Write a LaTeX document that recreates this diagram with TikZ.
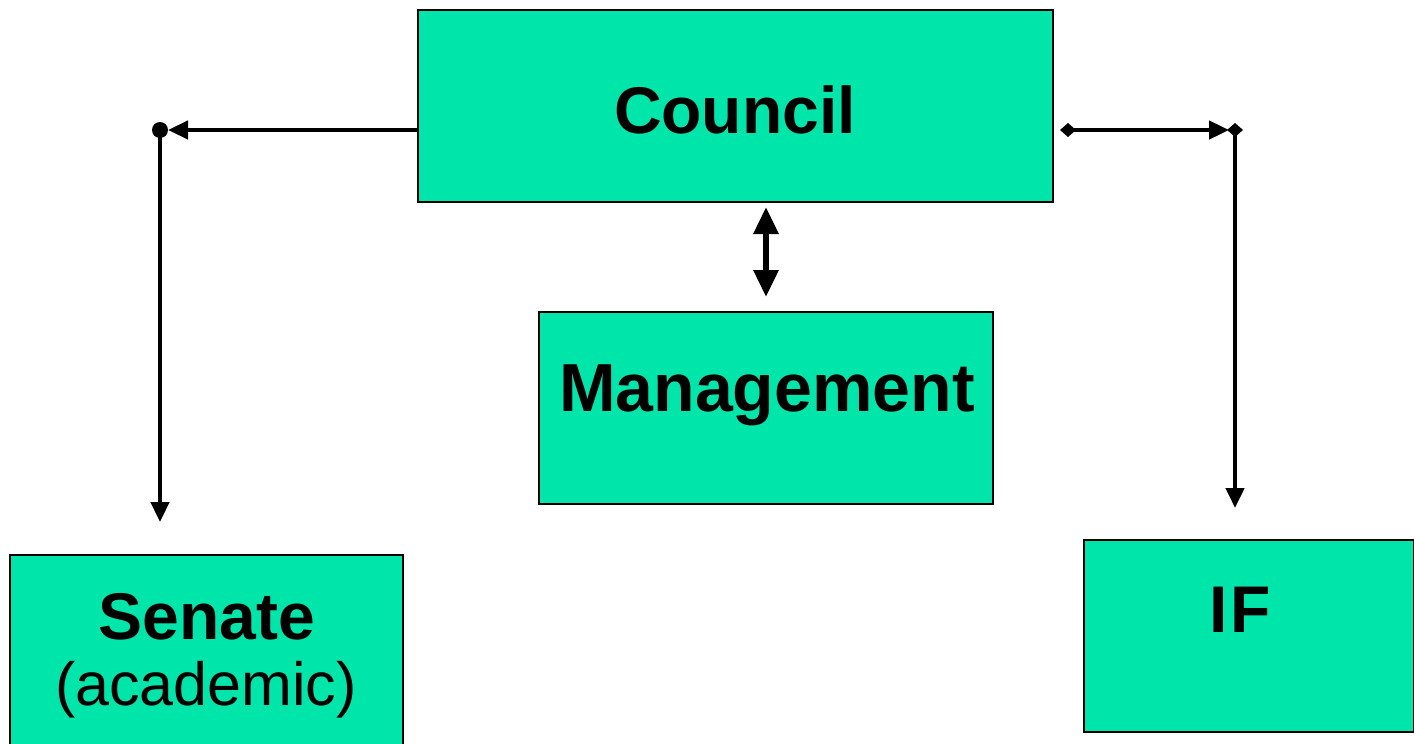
\documentclass[tikz,border=0pt]{standalone}
\usepackage{fontspec}
\setmainfont{Liberation Sans}
\usetikzlibrary{arrows.meta}
\definecolor{boxgreen}{HTML}{00E5AA}
\begin{document}
\begin{tikzpicture}[x=1pt,y=-1pt,
  box/.style={draw=black,line width=1.8pt,fill=boxgreen,inner sep=0pt},
  conn/.style={line width=4.6pt,-{Triangle[length=20pt,width=18pt]}},
  bold/.style={font=\fontsize{66}{70}\selectfont\bfseries}]
\useasboundingbox (0,0) rectangle (1414,744);
\node[box,minimum width=635pt,minimum height=192pt] (council) at (735.5,106) {};
\node[bold] at (735,110) {Council};
\node[box,minimum width=454pt,minimum height=192pt] (mgmt) at (766,408) {};
\node[bold,font=\fontsize{68}{70}\selectfont\bfseries] at (767,395) {Management};
\path[box] (10,555) rectangle (403,760);
\coordinate (senate) at (206,555);
\node[bold] at (207,617) {Senate};
\node[font=\fontsize{61}{66}\selectfont] at (206,690) {(academic)};
\node[box,minimum width=330pt,minimum height=192pt] (if) at (1249,636) {};
\node[bold] at (1240,610) {I\hspace{3pt}F};
% left connector
\coordinate (lc) at (160,130);
\coordinate (ls) at (160,522);
\draw[conn,shorten >=8pt] (council.west |- lc) -- (lc);
\fill (lc) circle (8pt);
\draw[conn] (lc) -- (ls);
% right connector
\coordinate (rs) at (1068,130);
\coordinate (rc) at (1235,130);
\coordinate (re) at (1235,508);
\draw[conn,shorten >=6pt] (rs) -- (rc);
\fill (rs) +(-8,0) -- +(0,-7) -- +(8,0) -- +(0,7) -- cycle;
\fill (rc) +(-8,0) -- +(0,-7) -- +(8,0) -- +(0,7) -- cycle;
\draw[conn] (rc) -- (re);
% management
\draw[line width=6pt,{Triangle[length=27pt,width=24pt]}-{Triangle[length=27pt,width=24pt]}] (766,207) -- (766,297);
\end{tikzpicture}
\end{document}
